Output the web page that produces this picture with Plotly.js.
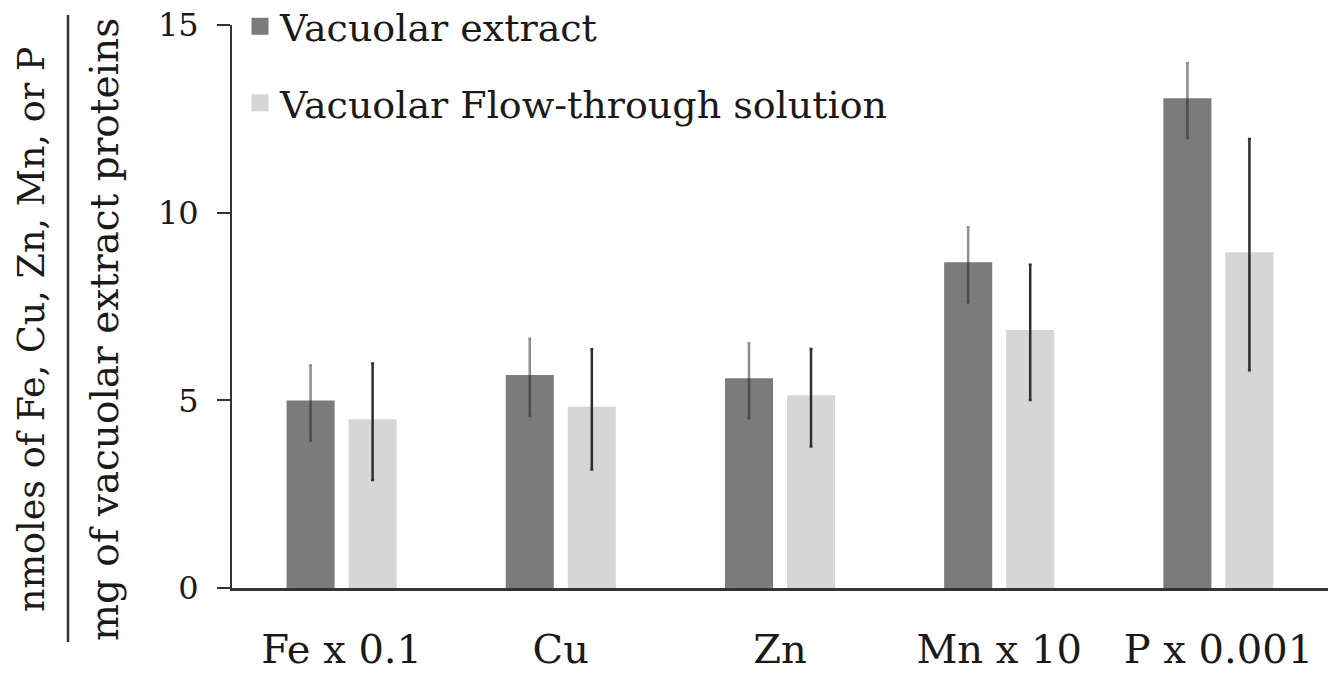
<!DOCTYPE html>
<html>
<head>
<meta charset="utf-8">
<script src="https://cdn.plot.ly/plotly-3.0.1.min.js"></script>
<style>html,body{margin:0;padding:0;background:#fff;}#chart{width:1341px;height:678px;}</style>
</head>
<body>
<div id="chart"></div>
<script>
const categories = ["Fe x 0.1", "Cu", "Zn", "Mn x 10", "P x 0.001"];
const extractValues = [4.93, 5.61, 5.52, 8.61, 12.98];
const extractErrors = [1.0, 1.03, 1.0, 1.0, 1.0];
const flowValues = [4.43, 4.76, 5.07, 6.81, 8.88];
const flowErrors = [1.55, 1.6, 1.3, 1.8, 3.08];
const seriesNames = ["Vacuolar extract", "Vacuolar Flow-through solution"];
const yTicks = [0, 5, 10, 15];
const yTitleTop = "nmoles of Fe, Cu, Zn, Mn, or P";
const yTitleBottom = "mg of vacuolar extract proteins";

const FONT = "DejaVu Serif, Liberation Serif, serif";
const TXT = '#1a1a1a';
const L = 232, R = 13, T = 25, B = 90;
const W = 1341, H = 678;
const pw = W - L - R, ph = H - T - B;
const px = x => (x - L) / pw;
const py = y => (H - B - y) / ph;

const DARK = '#7b7b7b', LIGHT = '#d6d6d6';
const traces = [
  {type: 'bar', name: seriesNames[0], x: categories, y: extractValues, legendgroup: 'a',
   marker: {color: DARK, line: {color: DARK, width: 5}},
   error_y: {type: 'data', array: extractErrors, visible: true, color: 'rgba(30,30,30,0.5)', thickness: 2.5, width: 1.5}},
  {type: 'bar', name: seriesNames[1], x: categories, y: flowValues, legendgroup: 'b',
   marker: {color: LIGHT, line: {color: LIGHT, width: 5}},
   error_y: {type: 'data', array: flowErrors, visible: true, color: '#2e2e2e', thickness: 2.5, width: 1.5}}
];

const layout = {
  width: W, height: H,
  margin: {l: L, r: R, t: T, b: B, pad: 0, autoexpand: false},
  paper_bgcolor: '#fff', plot_bgcolor: '#fff',
  font: {family: FONT, color: TXT, size: 32},
  barmode: 'group', bargap: 0.434, bargroupgap: 0.306,
  showlegend: true,
  legend: {x: px(240), y: 1.053, xanchor: 'left', yanchor: 'top', traceorder: 'grouped',
           tracegroupgap: 24, font: {family: FONT, size: 38, color: TXT},
           bgcolor: 'rgba(0,0,0,0)'},
  xaxis: {type: 'category', showgrid: false, zeroline: false, showline: true,
          linecolor: '#333', linewidth: 2.5, ticks: '', ticklabelstandoff: 24,
          tickfont: {family: FONT, size: 40, color: TXT}},
  yaxis: {range: [0, 15], tickvals: yTicks, showgrid: false, zeroline: false,
          showline: true, linecolor: '#333', linewidth: 2, ticks: 'outside', ticklen: 13,
          tickwidth: 2, tickcolor: '#333', ticklabelstandoff: 12,
          tickfont: {family: FONT, size: 32, color: TXT}},
  annotations: [
    {text: yTitleTop, xref: 'paper', yref: 'paper', x: px(31), y: py(330), textangle: -90,
     showarrow: false, xanchor: 'center', yanchor: 'middle', font: {family: FONT, size: 36.5, color: TXT}},
    {text: yTitleBottom, xref: 'paper', yref: 'paper', x: px(104), y: py(330), textangle: -90,
     showarrow: false, xanchor: 'center', yanchor: 'middle', font: {family: FONT, size: 39, color: TXT}}
  ],
  shapes: [
    {type: 'line', xref: 'paper', yref: 'paper', x0: px(68), x1: px(68), y0: py(642), y1: py(15),
     line: {color: '#333', width: 2.5}}
  ]
};

Plotly.newPlot('chart', traces, layout, {displayModeBar: false, staticPlot: true});
</script>
</body>
</html>
